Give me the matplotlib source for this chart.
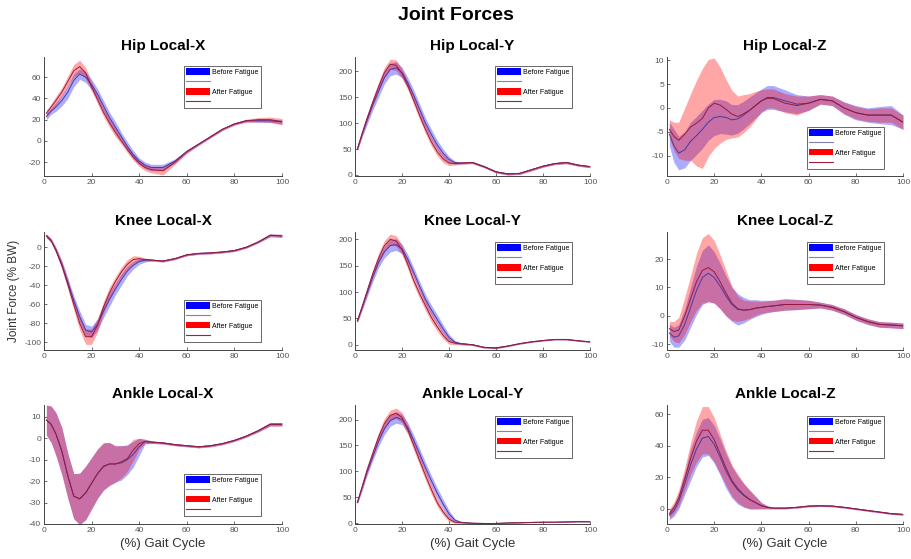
import matplotlib.pyplot as plt
from matplotlib.patches import Patch
from matplotlib.lines import Line2D
import numpy as np

plt.rcParams['font.family'] = ['Liberation Sans', 'DejaVu Sans']
plt.rcParams['axes.unicode_minus'] = False

# gait cycle (%) sample points
gait = [1, 3, 5, 7.5, 10, 12.5, 15, 17.5, 20, 22.5, 25, 27.5, 30, 32.5, 35, 37.5, 40, 42.5, 45,
        50, 55, 60, 65, 70, 75, 80, 85, 90, 95, 100]

# Hip Local-X
hx_b = [23, 28, 32, 38, 46, 57, 63, 60, 53, 44, 33, 22, 13, 4, -5, -13, -19, -23, -25,
        -25, -19, -10, -3, 4, 11, 16, 19, 19, 19, 18]
hx_bsd = [3, 3, 4, 5, 6, 6, 5, 5, 5, 5, 5, 5, 5, 4, 4, 4, 3, 3, 3,
          3, 2, 1.5, 1, 1, 1, 1, 1, 1.5, 1.5, 2]
hx_a = [26, 32, 38, 46, 56, 66, 70, 64, 51, 39, 27, 17, 8, 0, -8, -15, -21, -25, -27,
        -28, -20, -10, -3, 4, 11, 16, 19, 20, 20, 18]
hx_asd = [3, 3, 4, 4, 5, 6, 6, 5, 4, 4, 4, 4, 4, 3, 3, 3, 3, 3, 3,
          4, 2, 1.5, 1, 1, 1, 1, 1.5, 2, 2.5, 3]

# Hip Local-Y
hy_b = [50, 78, 104, 135, 162, 188, 204, 207, 198, 178, 154, 127, 100, 78, 58, 42, 30, 24, 23,
        24, 16, 6, 2, 3, 10, 17, 22, 24, 19, 16]
hy_bsd = [3, 5, 8, 10, 12, 12, 12, 12, 10, 10, 10, 10, 10, 10, 9, 8, 6, 3, 2,
          2, 2, 2, 2, 2, 2, 2, 2, 2, 2, 2]
hy_a = [50, 80, 108, 140, 170, 198, 214, 212, 196, 172, 144, 115, 88, 64, 45, 31, 23, 22, 23,
        24, 16, 6, 2, 3, 10, 17, 22, 24, 19, 16]
hy_asd = [3, 5, 6, 8, 9, 10, 10, 10, 9, 8, 8, 8, 8, 8, 8, 7, 5, 3, 2,
          2, 2, 2, 2, 2, 2, 2, 2, 2.5, 2, 2]

# Hip Local-Z
hz_b = [-5.5, -8, -9.5, -8.8, -7, -5.8, -4.5, -3, -2, -1.8, -2, -2.5, -2.3, -1.5, -0.5, 0.5, 1.5, 2.2, 2.2,
        1.5, 0.8, 1, 1.8, 1.5, 0, -1, -1.5, -1.5, -1.5, -3]
hz_bsd = [2.5, 3.5, 3.5, 3.8, 4, 4, 4, 3.8, 3.8, 3.6, 3.5, 3.2, 3, 2.9, 2.8, 2.6, 2.5, 2.5, 2.5,
          2.3, 2, 1.5, 1, 1, 1.3, 1.5, 1.5, 1.8, 2, 1.5]
hz_a = [-4.5, -6, -6.8, -5.5, -4, -3.2, -2.2, 0, 1, 0.6, -0.3, -1.3, -1.8, -1.2, -0.5, 0.5, 1.5, 2, 2,
        1, 0.5, 1, 1.8, 1.5, 0, -1, -1.5, -1.5, -1.5, -3]
hz_asd = [2, 3, 3.8, 5.5, 7, 9, 10.5, 10.2, 9.5, 8, 6.3, 5, 4.3, 4, 3.5, 3, 2.3, 2, 2,
          2, 2, 1.5, 1, 1, 1.2, 1.3, 1.3, 1.5, 1.5, 1.5]

# Knee Local-X
kx_b = [12, 7, -3, -18, -37, -56, -73, -87, -89, -81, -67, -55, -44, -34, -25, -19, -15, -13.5, -13.5,
        -14.5, -12, -8, -6.5, -6, -5, -3.5, 0, 5.5, 12.5, 12]
kx_bsd = [2, 2, 3, 4, 5, 5, 6, 6, 6, 6, 7, 7, 6, 6, 5, 4, 3, 2, 1,
          1, 1, 1, 1, 1, 1, 1, 1, 1, 1.5, 1.5]
kx_a = [12, 7, -3, -19, -39, -60, -80, -94, -94, -82, -63, -48, -36, -26, -18, -13, -12, -13, -13.5,
        -14.5, -12, -8, -6.5, -6, -5, -3.5, 0, 5.5, 12.5, 12]
kx_asd = [2, 2, 3, 4, 5, 6, 7, 8, 8, 7, 6, 6, 5, 5, 5, 4, 2.5, 1.5, 1,
          1, 1, 1, 1, 1, 1, 1, 1, 1, 1.5, 1.5]

# Knee Local-Y
ky_b = [45, 70, 96, 128, 156, 176, 188, 190, 182, 162, 137, 111, 86, 66, 48, 30, 14, 5, 2,
        0, -5, -6, -2.5, 2, 5.5, 8, 10, 10, 7.5, 5.5]
ky_bsd = [3, 5, 7, 9, 10, 11, 12, 11, 9, 9, 9, 9, 9, 9, 9, 8, 6, 3, 2,
          1.5, 1.5, 1.5, 1, 1, 1, 1, 1, 1, 1, 1]
ky_a = [45, 72, 100, 134, 164, 188, 200, 197, 180, 152, 122, 97, 74, 52, 34, 18, 6, 3, 2,
        0, -5, -6, -2.5, 2, 5.5, 8, 10, 10, 7.5, 5.5]
ky_asd = [3, 5, 6, 8, 9, 10, 10, 10, 9, 9, 9, 9, 9, 9, 8, 7, 5, 3, 2,
          1.5, 1.5, 1.5, 1, 1, 1, 1, 1, 1, 1, 1]

# Knee Local-Z
kz_b = [-6, -7.5, -7, -3, 3, 9, 13.5, 15, 13.5, 10.5, 7, 4, 2.3, 2, 2.2, 2.7, 3, 3.3, 3.5,
        4, 4, 4, 3.8, 3, 1.5, -0.5, -2, -3, -3.2, -3.5]
kz_bsd = [3, 3.5, 4, 5.5, 7, 8.5, 9.5, 10, 9, 8, 7, 6, 5.5, 4.5, 3.5, 3, 2.5, 2.2, 2,
          2, 1.8, 1.5, 1, 1, 1, 1, 1, 1, 1, 1]
kz_a = [-4.5, -5.5, -5, 0, 6, 12, 16, 17, 15.5, 12, 8, 4.5, 2.5, 2, 2.2, 2.7, 3, 3.3, 3.5,
        4, 4, 4, 3.8, 3, 1.5, -0.5, -2, -3, -3.2, -3.5]
kz_asd = [2.5, 3.5, 4.5, 6.5, 8, 10, 11.5, 12, 11, 9.5, 8, 6, 4.5, 3.5, 3, 2.5, 2, 2, 2,
          2, 1.8, 1.5, 1, 1, 1, 1, 1, 1, 1, 1]

# Ankle Local-X
ax_b = [8.5, 6.5, 2, -6, -17.5, -27, -28.3, -25.5, -21, -16.5, -13.3, -12, -12, -11.5, -10, -7.5, -4, -1.5, -1.8,
        -2.2, -3, -3.5, -4, -3.5, -2.5, -1, 1, 3.5, 6.5, 6.5]
ax_bsd = [7, 8.5, 10, 11, 10.5, 10.5, 12, 12.5, 12, 11.5, 11, 10, 8.5, 8, 7, 6, 4, 1, 0.6,
          0.5, 0.5, 0.5, 0.5, 0.5, 0.5, 0.5, 0.5, 0.6, 0.8, 0.8]
ax_a = [8.5, 6.5, 2, -6, -17.5, -27, -28.3, -25.5, -21, -16.5, -13, -12, -12, -11, -9.5, -5.5, -2.5, -1.5, -1.8,
        -2.2, -3, -3.5, -4, -3.5, -2.5, -1, 1, 3.5, 6.5, 6.5]
ax_asd = [7, 8.5, 10, 11, 10.5, 10.5, 12, 12.5, 12, 11.5, 11, 10, 8.5, 7.5, 6, 5, 2.5, 1, 0.6,
          0.5, 0.5, 0.5, 0.5, 0.5, 0.5, 0.5, 0.5, 0.6, 0.8, 0.8]

# Ankle Local-Y
ay_b = [40, 68, 97, 128, 158, 182, 198, 204, 200, 184, 160, 134, 107, 82, 58, 37, 18, 6, 2,
        0, -0.5, -0.5, 0.5, 1, 1.5, 2, 2, 2.5, 3, 3]
ay_bsd = [3, 5, 7, 8, 10, 11, 11, 11, 10, 10, 10, 10, 10, 10, 10, 9, 7, 3, 1,
          0.5, 0.5, 0.5, 0.5, 0.5, 0.5, 0.5, 0.5, 0.5, 0.5, 0.5]
ay_a = [40, 70, 101, 134, 166, 192, 208, 212, 204, 180, 150, 121, 92, 65, 40, 22, 8, 2, 1,
        0, -0.5, -0.5, 0.5, 1, 1.5, 2, 2, 2.5, 3, 3]
ay_asd = [3, 5, 6, 8, 9, 10, 10, 10, 10, 9, 9, 9, 9, 9, 8, 6, 5, 2, 1,
          0.5, 0.5, 0.5, 0.5, 0.5, 0.5, 0.5, 0.5, 0.5, 0.5, 0.5]

# Ankle Local-Z
az_b = [-4, -1, 5, 16, 28, 38, 45, 46, 41, 33, 24, 17, 12, 8.5, 6, 4, 2, 1, 0.5,
        0.5, 1, 1.8, 2, 1.8, 1, 0, -1, -2, -3, -3.5]
az_bsd = [3, 3.5, 5, 7, 10, 11, 12, 12, 12, 11.5, 11, 10, 9, 7.5, 6, 4, 2, 1, 0.5,
          0.5, 0.5, 0.5, 0.5, 0.5, 0.5, 0.5, 0.5, 0.5, 0.5, 0.5]
az_a = [-3, 1, 7, 19, 32, 43, 50, 50, 44, 35, 26, 18, 13, 9, 6, 4, 2, 1, 0.5,
        0.5, 1, 1.8, 2, 1.8, 1, 0, -1, -2, -3, -3.5]
az_asd = [3, 3.5, 5, 7, 10, 13, 15, 15, 14, 12.5, 11, 10, 9, 7.5, 6, 4, 2, 1, 0.5,
          0.5, 0.5, 0.5, 0.5, 0.5, 0.5, 0.5, 0.5, 0.5, 0.5, 0.5]

titulos = ['Hip Local-X', 'Hip Local-Y', 'Hip Local-Z',
           'Knee Local-X', 'Knee Local-Y', 'Knee Local-Z',
           'Ankle Local-X', 'Ankle Local-Y', 'Ankle Local-Z']
series = [(hx_b, hx_bsd, hx_a, hx_asd), (hy_b, hy_bsd, hy_a, hy_asd), (hz_b, hz_bsd, hz_a, hz_asd),
          (kx_b, kx_bsd, kx_a, kx_asd), (ky_b, ky_bsd, ky_a, ky_asd), (kz_b, kz_bsd, kz_a, kz_asd),
          (ax_b, ax_bsd, ax_a, ax_asd), (ay_b, ay_bsd, ay_a, ay_asd), (az_b, az_bsd, az_a, az_asd)]
limites_y = [(-33, 79), (-2, 228), (-14.3, 10.7),
             (-108, 16), (-10, 214), (-12, 29.5),
             (-40, 15.5), (-1.5, 228), (-9.6, 66)]
ticks_y = [[-20, 0, 20, 40, 60], [0, 50, 100, 150, 200], [-10, -5, 0, 5, 10],
           [-100, -80, -60, -40, -20, 0], [0, 50, 100, 150, 200], [-10, 0, 10, 20],
           [-40, -30, -20, -10, 0, 10], [0, 50, 100, 150, 200], [0, 20, 40, 60]]
# legend anchor (axes fraction, upper left corner)
leyendas = [(0.588, 0.924), (0.596, 0.924), (0.593, 0.412),
            (0.588, 0.424), (0.596, 0.915), (0.593, 0.915),
            (0.588, 0.42), (0.596, 0.908), (0.593, 0.908)]

W, H = 911, 559
fig = plt.figure(figsize=(W / 100, H / 100), dpi=100)

cols = [(44, 282), (355, 590), (667, 903)]
rows = [(57, 176), (232, 350), (405, 524)]

gris = '#555555'
c_antes = '#4a3a9a'
c_despues = '#9a1a3a'

x = np.array(gait)
for i in range(9):
    r, c = divmod(i, 3)
    x0, x1 = cols[c]
    y0, y1 = rows[r]
    ax = fig.add_axes([x0 / W, 1 - y1 / H, (x1 - x0) / W, (y1 - y0) / H])
    mb, sb, ma, sa = [np.array(v, dtype=float) for v in series[i]]

    ax.fill_between(x, mb - sb, mb + sb, color='blue', alpha=0.33, lw=0)
    ax.fill_between(x, ma - sa, ma + sa, color='red', alpha=0.35, lw=0)
    ax.plot(x, mb, color=c_antes, lw=0.7)
    ax.plot(x, ma, color=c_despues, lw=0.7)

    ax.set_xlim(0, 100)
    ax.set_ylim(*limites_y[i])
    ax.set_xticks([0, 20, 40, 60, 80, 100])
    ax.set_yticks(ticks_y[i])
    ax.tick_params(direction='in', length=2.5, width=0.6, labelsize=6, colors=gris, pad=2)
    for s in ['top', 'right']:
        ax.spines[s].set_visible(False)
    for s in ['left', 'bottom']:
        ax.spines[s].set_color('#444444')
        ax.spines[s].set_linewidth(0.7)
    ax.set_title(titulos[i], fontsize=11, fontweight='bold', pad=5)

    handles = [Patch(facecolor='blue', edgecolor='none'),
               Line2D([], [], color='#8080b0', lw=0.8),
               Patch(facecolor='red', edgecolor='none'),
               Line2D([], [], color='#a02040', lw=0.8)]
    etiquetas = ['Before Fatigue', '', 'After Fatigue', '']
    leg = ax.legend(handles, etiquetas, loc='upper left', bbox_to_anchor=leyendas[i],
                    fontsize=5, frameon=True, fancybox=False, handlelength=3.4,
                    handleheight=1.0, labelspacing=0.35, borderpad=0.35,
                    handletextpad=0.3, borderaxespad=0)
    leg.get_frame().set_edgecolor('#222222')
    leg.get_frame().set_linewidth(0.6)

    if r == 2:
        ax.set_xlabel('(%) Gait Cycle', fontsize=9.5, color='#333333', labelpad=3)
    if i == 3:
        ax.set_ylabel('Joint Force (% BW)', fontsize=8.5, color='#333333', labelpad=3)

fig.suptitle('Joint Forces', fontsize=14, fontweight='bold', y=1 - 15 / H, va='center')

plt.savefig('out.png', dpi=100)
